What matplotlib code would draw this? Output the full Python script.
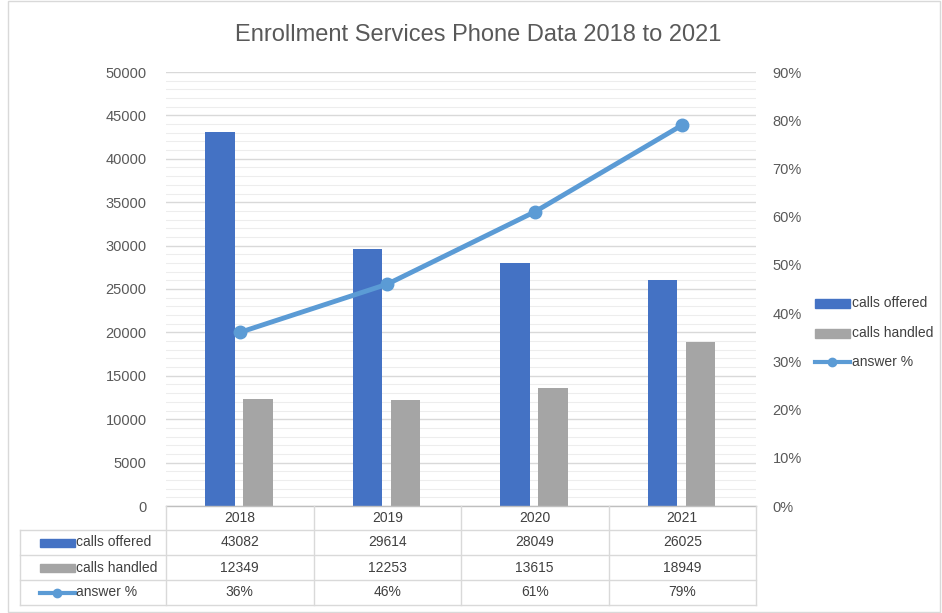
import matplotlib
matplotlib.use("Agg")
import matplotlib.pyplot as plt
import matplotlib.transforms as mtransforms
from matplotlib.patches import Rectangle
from matplotlib.lines import Line2D
import numpy as np

plt.rcParams['font.family'] = ['Liberation Sans', 'DejaVu Sans']

years = ["2018", "2019", "2020", "2021"]
calls_offered = [43082, 29614, 28049, 26025]
calls_handled = [12349, 12253, 13615, 18949]
answer_pct = [0.36, 0.46, 0.61, 0.79]
answer_labels = ["36%", "46%", "61%", "79%"]

series_names = ["calls offered", "calls handled", "answer %"]
c_blue = "#4472C4"
c_gray = "#A5A5A5"
c_line = "#5B9BD5"
txt = "#595959"

W, H = 942, 613
fig = plt.figure(figsize=(W / 100, H / 100), dpi=100)
fig.patch.set_facecolor("white")

L, R, B, T = 166, 756, 506, 72
ax = fig.add_axes([L / W, 1 - B / H, (R - L) / W, (B - T) / H])
x = np.arange(len(years))
bw = 0.2
ax.bar(x - 0.135, calls_offered, width=bw, color=c_blue, zorder=3)
ax.bar(x + 0.125, calls_handled, width=bw, color=c_gray, zorder=3)
ax.set_xlim(-0.5, len(years) - 0.5)
ax.set_ylim(0, 50000)
ax.set_yticks(np.arange(0, 50001, 5000))
ax.set_yticks(np.arange(0, 50001, 1000), minor=True)
ax.grid(axis='y', which='major', color="#D9D9D9", lw=1, zorder=0)
ax.grid(axis='y', which='minor', color="#EDEDED", lw=0.8, zorder=0)
ax.tick_params(axis='y', which='both', length=0, labelsize=10.5, labelcolor=txt, pad=14)
ax.set_xticks([])
for s in ax.spines.values():
    s.set_visible(False)

ax2 = ax.twinx()
ax2.plot(x, answer_pct, color=c_line, lw=3.5, marker='o', ms=9, zorder=5)
ax2.set_ylim(0, 0.9)
ax2.set_yticks(np.arange(0, 0.91, 0.1))
ax2.set_yticklabels([f"{int(round(v*100))}%" for v in np.arange(0, 0.91, 0.1)])
ax2.tick_params(axis='y', length=0, labelsize=10.5, labelcolor=txt, pad=12)
for s in ax2.spines.values():
    s.set_visible(False)
ax2.set_xlim(-0.5, len(years) - 0.5)

fig.text(478 / W, 1 - 35 / H, "Enrollment Services Phone Data 2018 to 2021",
         ha='center', va='center', fontsize=17, color=txt)

# data table (pixel-based helpers)
def fx(px):
    return px / W
def fy(py):
    return 1 - py / H

lc = "#D9D9D9"
rows_y = [506, 530, 555, 580, 605]
col_x = [L + (R - L) * i / len(years) for i in range(len(years) + 1)]
tab_left = 20
# horizontal lines
fig.add_artist(Line2D([fx(L), fx(R)], [fy(506), fy(506)], color="#BFBFBF", lw=1))
for yy in rows_y[1:]:
    fig.add_artist(Line2D([fx(tab_left), fx(R)], [fy(yy), fy(yy)], color=lc, lw=1))
for xx in col_x:
    fig.add_artist(Line2D([fx(xx), fx(xx)], [fy(506), fy(605)], color=lc, lw=1))
fig.add_artist(Line2D([fx(tab_left), fx(tab_left)], [fy(530), fy(605)], color=lc, lw=1))

for i, yr in enumerate(years):
    cx = (col_x[i] + col_x[i + 1]) / 2
    fig.text(fx(cx), fy(518), yr, ha='center', va='center', fontsize=10, color="#404040")
    fig.text(fx(cx), fy(542.5), str(calls_offered[i]), ha='center', va='center', fontsize=10, color="#404040")
    fig.text(fx(cx), fy(567.5), str(calls_handled[i]), ha='center', va='center', fontsize=10, color="#404040")
    fig.text(fx(cx), fy(592.5), answer_labels[i], ha='center', va='center', fontsize=10, color="#404040")

row_centers = [542.5, 567.5, 592.5]
for name, yc, kind in zip(series_names, row_centers, ["bar_b", "bar_g", "line"]):
    if kind == "line":
        fig.add_artist(Line2D([fx(40), fx(75)], [fy(yc), fy(yc)], color=c_line, lw=3,
                              marker=None))
        fig.add_artist(Line2D([fx(57)], [fy(yc)], color=c_line, marker='o', ms=6))
    else:
        col = c_blue if kind == "bar_b" else c_gray
        fig.add_artist(Rectangle((fx(40), fy(yc + 4)), fx(35), 8 / H, color=col, transform=fig.transFigure))
    fig.text(fx(76), fy(yc), name, ha='left', va='center', fontsize=10, color="#404040")

# legend on right
leg_rows = [303, 333, 362]
for name, yc, kind in zip(series_names, leg_rows, ["bar_b", "bar_g", "line"]):
    if kind == "line":
        fig.add_artist(Line2D([fx(815), fx(850)], [fy(yc), fy(yc)], color=c_line, lw=3))
        fig.add_artist(Line2D([fx(832)], [fy(yc)], color=c_line, marker='o', ms=6))
    else:
        col = c_blue if kind == "bar_b" else c_gray
        fig.add_artist(Rectangle((fx(815), fy(yc + 4.5)), fx(35), 9 / H, color=col, transform=fig.transFigure))
    fig.text(fx(852), fy(yc), name, ha='left', va='center', fontsize=10, color="#404040")

# chart border
fig.add_artist(Rectangle((fx(8), fy(612)), fx(932), 611 / H, fill=False, ec="#D9D9D9", lw=1,
                         transform=fig.transFigure))

fig.savefig("out.png", dpi=100)
